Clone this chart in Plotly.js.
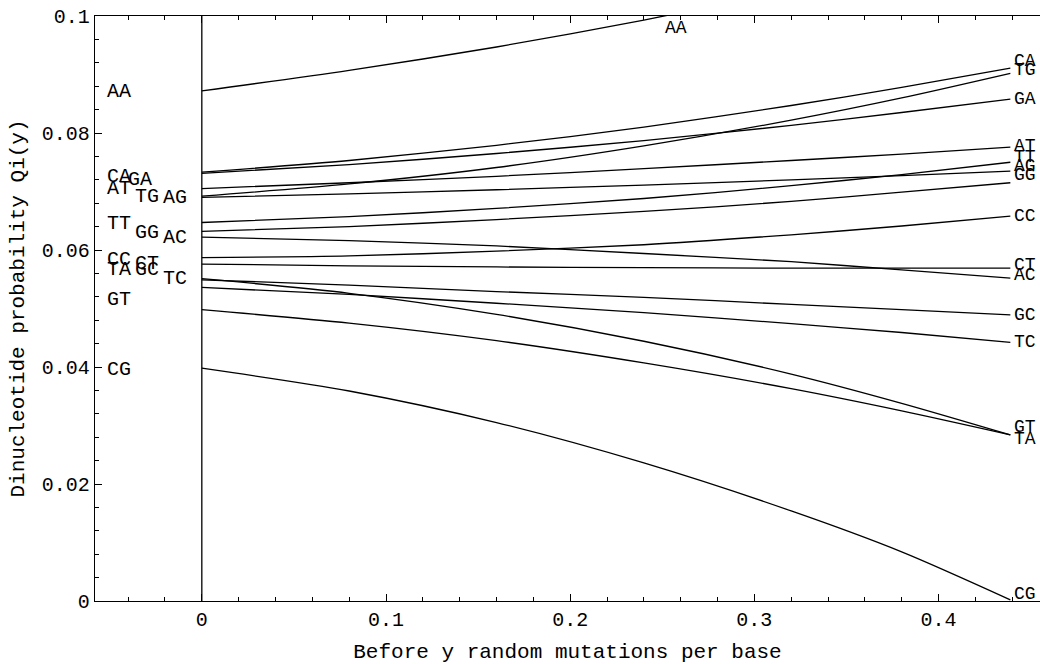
<!DOCTYPE html>
<html>
<head>
<meta charset="utf-8">
<script src="https://cdn.plot.ly/plotly-3.0.1.min.js"></script>
<style>
  html, body { margin: 0; padding: 0; background: #fff; overflow: hidden; }
  #chart { width: 1040px; height: 664px; }
</style>
</head>
<body>
<div id="chart"></div>
<script>
// Mutations per base (sample points along each curve)
var mutations = [0, 0.08, 0.16, 0.24, 0.32, 0.38, 0.439];

// Dinucleotide probabilities Qi(y)
var AA = [0.0872, 0.0907, 0.0947, 0.0993, 0.1045, 0.1087, 0.1132];
var CA = [0.0733, 0.0753, 0.0779, 0.0810, 0.0847, 0.0878, 0.0911];
var GA = [0.0731, 0.0746, 0.0765, 0.0787, 0.0813, 0.0835, 0.0858];
var TG = [0.0692, 0.0713, 0.0741, 0.0778, 0.0822, 0.0860, 0.0902];
var AT = [0.0705, 0.0715, 0.0726, 0.0739, 0.0753, 0.0764, 0.0776];
var AG = [0.0690, 0.0696, 0.0703, 0.0711, 0.0720, 0.0727, 0.0735];
var TT = [0.0647, 0.0657, 0.0671, 0.0688, 0.0710, 0.0729, 0.0750];
var GG = [0.0632, 0.0640, 0.0652, 0.0666, 0.0683, 0.0699, 0.0715];
var AC = [0.0622, 0.0616, 0.0607, 0.0594, 0.0580, 0.0566, 0.0552];
var CC = [0.0587, 0.0590, 0.0598, 0.0609, 0.0626, 0.0641, 0.0658];
var CT = [0.0576, 0.0573, 0.0571, 0.0570, 0.0569, 0.0569, 0.0569];
var TA = [0.0551, 0.0526, 0.0490, 0.0444, 0.0388, 0.0338, 0.0284];
var GC = [0.0549, 0.0540, 0.0529, 0.0519, 0.0507, 0.0498, 0.0489];
var TC = [0.0536, 0.0524, 0.0509, 0.0493, 0.0474, 0.0459, 0.0442];
var GT = [0.0498, 0.0475, 0.0445, 0.0407, 0.0363, 0.0325, 0.0284];
var CG = [0.0398, 0.0359, 0.0305, 0.0236, 0.0154, 0.0084, 0.0002];

var dinucleotides = ["AA","CA","GA","TG","AT","AG","TT","GG","AC","CC","CT","TA","GC","TC","GT","CG"];
var series = {AA:AA, CA:CA, GA:GA, TG:TG, AT:AT, AG:AG, TT:TT, GG:GG, AC:AC, CC:CC, CT:CT, TA:TA, GC:GC, TC:TC, GT:GT, CG:CG};

var xTickVals = [0, 0.1, 0.2, 0.3, 0.4];
var yTickVals = [0, 0.02, 0.04, 0.06, 0.08, 0.1];

// label placement (pixel offsets), styles only
var leftPlace = {
  AA:[-97,-1], CA:[-97,-4], GA:[-76,-6], AT:[-97,0], TG:[-69,0], AG:[-41,0],
  TT:[-97,-1], GG:[-69,-1], AC:[-41,0], CC:[-97,-2], CT:[-69,1],
  TA:[-97,9], GC:[-69,10], TC:[-41,9], GT:[-97,10], CG:[-97,-1]
};
var rightPlace = {
  CA:7, TG:3, GA:0, AT:1, TT:5, AG:5, GG:8, CC:0, CT:3, AC:3, GC:0, TC:0, GT:8, TA:-4, CG:6
};

var FONT = "'Liberation Mono', 'Courier New', monospace";
var traces = dinucleotides.map(function(k){
  return {
    x: mutations, y: series[k], type: 'scatter', mode: 'lines', name: k,
    line: {color: '#000', width: 1.3, shape: 'spline', smoothing: 0.8},
    hoverinfo: 'name+x+y', showlegend: false
  };
});

var annotations = [];
dinucleotides.forEach(function(k){
  var lp = leftPlace[k];
  annotations.push({
    x: mutations[0], y: series[k][0], xref: 'x', yref: 'y', text: k, showarrow: false,
    xanchor: 'left', yanchor: 'middle', xshift: lp[0], yshift: lp[1],
    font: {family: FONT, size: 20, color: '#000'}
  });
  if (k in rightPlace) {
    var n = mutations.length - 1;
    annotations.push({
      x: mutations[n], y: series[k][n], xref: 'x', yref: 'y', text: k, showarrow: false,
      xanchor: 'left', yanchor: 'middle', xshift: 2, yshift: rightPlace[k],
      font: {family: FONT, size: 18, color: '#000'}
    });
  }
});
// AA leaves the top of the plot: label just below the top frame
annotations.push({
  x: 0.2504, y: 0.1, xref: 'x', yref: 'y', text: 'AA', showarrow: false,
  xanchor: 'left', yanchor: 'middle', yshift: -12,
  font: {family: FONT, size: 18, color: '#000'}
});

var layout = {
  width: 1040, height: 664,
  margin: {l: 95, r: 0, t: 16, b: 63},
  paper_bgcolor: '#fff', plot_bgcolor: '#fff',
  font: {family: FONT, color: '#000', size: 18},
  showlegend: false,
  xaxis: {
    range: [-0.058, 0.4551], tickmode: 'array', tickvals: xTickVals,
    ticktext: xTickVals.map(String),
    ticks: 'inside', ticklen: 7, tickwidth: 1, tickcolor: '#000',
    showline: true, linecolor: '#000', linewidth: 1.3, mirror: 'ticks',
    showgrid: false, zeroline: false,
    minor: {tickmode: 'linear', tick0: 0, dtick: 0.02, ticks: 'inside', ticklen: 4, tickcolor: '#000', showgrid: false},
    tickfont: {family: FONT, size: 20, color: '#000'},
    title: {text: 'Before y random mutations per base', standoff: 14, font: {family: FONT, size: 21, color: '#000'}}
  },
  yaxis: {
    range: [0, 0.1], tickmode: 'array', tickvals: yTickVals,
    ticktext: yTickVals.map(String),
    ticks: 'inside', ticklen: 7, tickwidth: 1, tickcolor: '#000',
    showline: true, linecolor: '#000', linewidth: 1.3, mirror: false,
    showgrid: false, zeroline: false,
    minor: {tickmode: 'linear', tick0: 0, dtick: 0.004, ticks: 'inside', ticklen: 4, tickcolor: '#000', showgrid: false},
    tickfont: {family: FONT, size: 20, color: '#000'},
    title: {text: 'Dinucleotide probability Qi(y)', standoff: 11, font: {family: FONT, size: 21, color: '#000'}}
  },
  shapes: [{type: 'line', xref: 'x', yref: 'y', x0: 0, x1: 0, y0: 0, y1: 0.1, line: {color: '#000', width: 1.3}}],
  annotations: annotations
};

Plotly.newPlot('chart', traces, layout, {staticPlot: true, displayModeBar: false});
</script>
</body>
</html>
